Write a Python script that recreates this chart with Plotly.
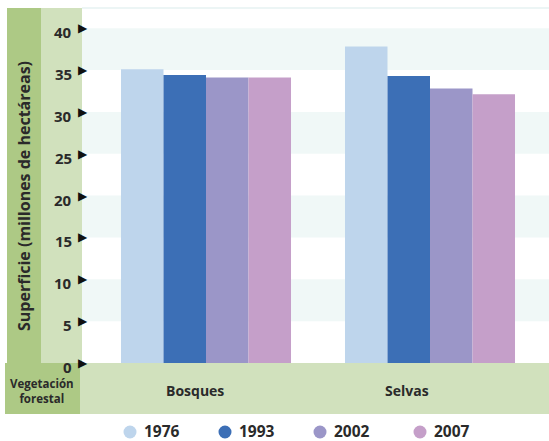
import plotly.graph_objects as go

categories = ["Bosques", "Selvas"]
years = ["1976", "1993", "2002", "2007"]
values = {
    "1976": [35.1, 37.8],
    "1993": [34.4, 34.3],
    "2002": [34.1, 32.8],
    "2007": [34.1, 32.1],
}
colors = ["#bed5ec", "#3c6fb6", "#9b96c8", "#c59fc9"]
y_ticks = [0, 5, 10, 15, 20, 25, 30, 35, 40]

W, H = 549, 441
ML, MR, MT, MB = 82, 0, 8, 78
PW, PH = W - ML - MR, H - MT - MB

def px(xp):
    return (xp - ML) / PW

def py(yp):
    return (H - MB - yp) / PH

FONT = "Open Sans"
TXT = "#2a2a2a"
DARK = "#adc985"
LIGHT = "#d1e1bd"
STRIPE = "#f0f8f7"

fig = go.Figure()
for yr, c in zip(years, colors):
    fig.add_trace(go.Bar(x=categories, y=values[yr], name=yr, marker_color=c,
                         marker_line_width=0, showlegend=False, hoverinfo="skip"))

shapes = []
for lo in [5, 15, 25, 35]:
    shapes.append(dict(type="rect", xref="paper", yref="y", x0=0, x1=1, y0=lo, y1=lo + 5,
                       fillcolor=STRIPE, line_width=0, layer="below"))
shapes.append(dict(type="line", xref="paper", yref="paper", x0=0, x1=1, y0=1, y1=1,
                   line=dict(color="#e6f2f2", width=1.5), layer="below"))
shapes.append(dict(type="rect", xref="paper", yref="paper", x0=px(7), x1=px(41), y0=py(363), y1=py(8),
                   fillcolor=DARK, line_width=0))
shapes.append(dict(type="rect", xref="paper", yref="paper", x0=px(41), x1=px(82), y0=py(363), y1=py(8),
                   fillcolor=LIGHT, line_width=0))
shapes.append(dict(type="rect", xref="paper", yref="paper", x0=px(80), x1=1, y0=py(414), y1=py(363),
                   fillcolor=LIGHT, line_width=0))
shapes.append(dict(type="rect", xref="paper", yref="paper", x0=px(5), x1=px(80), y0=py(414), y1=py(363),
                   fillcolor=DARK, line_width=0))

annotations = []
for t in y_ticks:
    annotations.append(dict(x=px(74), xref="paper", y=t, yref="y", text="<b>%d</b>" % t,
                            showarrow=False, xanchor="right", yanchor="middle", yshift=-4,
                            font=dict(family=FONT, size=15, color=TXT)))
    annotations.append(dict(x=px(83), xref="paper", y=t, yref="y", text="▶",
                            showarrow=False, xanchor="center", yanchor="middle", yshift=0,
                            font=dict(family="DejaVu Sans", size=12, color="#111111")))

annotations.append(dict(x=px(24), xref="paper", y=py(196), yref="paper",
                        text="<b>Superficie (millones de hectáreas)</b>", textangle=-90,
                        showarrow=False, xanchor="center", yanchor="middle",
                        font=dict(family=FONT, size=16, color=TXT)))
annotations.append(dict(x=px(42), xref="paper", y=py(391), yref="paper",
                        text="<b>Vegetación<br>forestal</b>", showarrow=False,
                        xanchor="center", yanchor="middle",
                        font=dict(family=FONT, size=11.5, color=TXT)))
for cat, shift in zip(categories, [-11, -23]):
    annotations.append(dict(x=cat, xref="x", y=py(391), yref="paper", xshift=shift,
                            text="<b>%s</b>" % cat, showarrow=False,
                            xanchor="center", yanchor="middle",
                            font=dict(family=FONT, size=14, color=TXT)))

leg_x = [130, 225, 320, 420]
for yr, c, lx in zip(years, colors, leg_x):
    shapes.append(dict(type="circle", xref="paper", yref="paper", xsizemode="pixel", ysizemode="pixel",
                       xanchor=px(lx), yanchor=py(432), x0=-6.5, x1=6.5, y0=-6.5, y1=6.5,
                       fillcolor=c, line_width=0))
    annotations.append(dict(x=px(lx + 12), xref="paper", y=py(431), yref="paper",
                            text="<b>%s</b>" % yr, showarrow=False, xanchor="left", yanchor="middle",
                            font=dict(family=FONT, size=15.5, color=TXT)))

fig.update_layout(
    width=W, height=H,
    margin=dict(l=ML, r=MR, t=MT, b=MB),
    paper_bgcolor="white", plot_bgcolor="white",
    barmode="group", bargap=0.241, bargroupgap=0,
    xaxis=dict(range=[-124 / 224, 343 / 224], showticklabels=False, showgrid=False,
               zeroline=False, showline=False, ticks="", fixedrange=True),
    yaxis=dict(range=[0, PH / 8.37], showticklabels=False, showgrid=False,
               zeroline=False, showline=False, ticks="", fixedrange=True),
    shapes=shapes, annotations=annotations, showlegend=False,
)

fig.write_html("out.html", config={"displayModeBar": False, "staticPlot": True},
               post_script="document.body.style.margin='0';document.body.style.overflow='hidden';")
